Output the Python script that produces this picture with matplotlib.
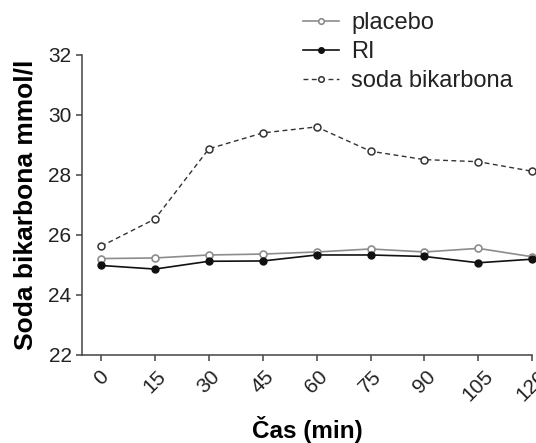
import numpy as np
import matplotlib
matplotlib.use("Agg")
import matplotlib.pyplot as plt

plt.rcParams["font.family"] = ["Liberation Sans", "DejaVu Sans"]

time_min = [0, 15, 30, 45, 60, 75, 90, 105, 120]
placebo = [25.21, 25.23, 25.33, 25.36, 25.43, 25.53, 25.43, 25.55, 25.27]
ri = [24.98, 24.86, 25.12, 25.13, 25.33, 25.33, 25.28, 25.07, 25.19]
soda = [25.62, 26.53, 28.87, 29.40, 29.60, 28.79, 28.51, 28.44, 28.12]
yticks = [22, 24, 26, 28, 30, 32]

fig = plt.figure(figsize=(5.36, 4.43), dpi=100)
ax = fig.add_axes([0.153, 0.199, 0.840, 0.677])

axis_col = "#444444"
ax.plot(time_min, placebo, color="#8c8c8c", lw=1.2, marker="o", ms=5,
        mfc="white", mec="#8c8c8c", mew=1.2, label="placebo", clip_on=False)
ax.plot(time_min, ri, color="#111111", lw=1.2, marker="o", ms=5,
        mfc="#111111", mec="#111111", label="RI", clip_on=False)
ax.plot(time_min, soda, color="#333333", lw=1.0, ls=(0, (3.5, 2.5)), marker="o", ms=5,
        mfc="white", mec="#333333", mew=1.1, label="soda bikarbona", clip_on=False)

ax.set_xlim(-5.3, 120)
ax.set_ylim(22, 32)
ax.set_xticks(time_min)
ax.set_xticklabels([str(t) for t in time_min], rotation=45, fontsize=15)
ax.set_yticks(yticks)
ax.set_yticklabels([str(t) for t in yticks], fontsize=15)
ax.tick_params(axis="both", colors=axis_col, labelcolor="#222222", width=1.1, length=4.5)
ax.tick_params(axis="x", pad=4)
ax.tick_params(axis="y", pad=3)

for s in ["top", "right"]:
    ax.spines[s].set_visible(False)
for s in ["left", "bottom"]:
    ax.spines[s].set_color(axis_col)
    ax.spines[s].set_linewidth(1.1)

ax.set_xlabel("Čas (min)", fontsize=17.5, fontweight="bold", labelpad=8)
ax.set_ylabel("Soda bikarbona mmol/l", fontsize=19, fontweight="bold", labelpad=8)

handles, labels = ax.get_legend_handles_labels()
leg = fig.legend(handles, labels, loc="upper left", bbox_to_anchor=(0.565, 0.973),
                 frameon=False, fontsize=17, handlelength=1.55, handletextpad=0.5,
                 labelspacing=0.3, borderpad=0, borderaxespad=0, markerscale=0.8)
for t in leg.get_texts():
    t.set_color("#222222")

fig.savefig("out.png", dpi=100)
